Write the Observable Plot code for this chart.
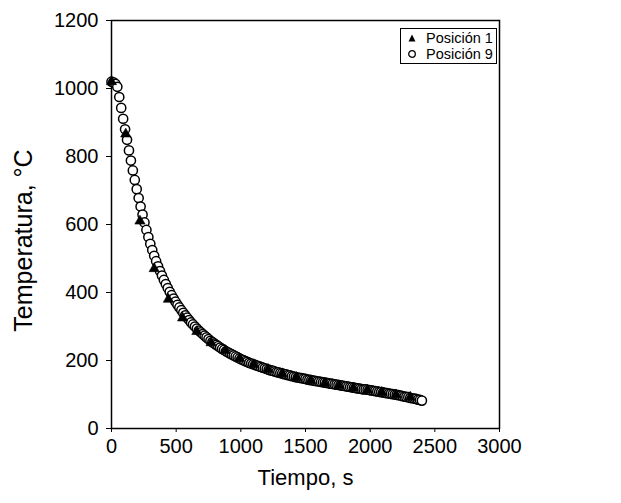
<!DOCTYPE html>
<html>
<head>
<meta charset="utf-8">
<script src="https://cdn.jsdelivr.net/npm/d3@7"></script>
<script src="https://cdn.jsdelivr.net/npm/@observablehq/plot@0.6"></script>
<style>
  html, body { margin: 0; padding: 0; background: white; }
  #wrap { position: relative; width: 621px; height: 503px; font-family: "Liberation Sans", Arial, sans-serif; }
  #legend { position: absolute; border: 1.4px solid black; background: white; font-size: 14.5px; line-height: 16px; padding: 1px 3px 1px 6px; }
  #legend .row { display: flex; align-items: center; white-space: nowrap; }
  #legend svg { margin-right: 9px; }
</style>
</head>
<body>
<div id="wrap"></div>
<script>
// Position 9 (open circles), time in s
const times9 = [0,15,30,45,60,75,90,105,120,135,150,165,180,195,210,225,240,255,270,285,300,315,330,345,360,375,390,405,420,435,450,465,480,495,510,525,540,555,570,585,600,
  615,630,645,660,675,690,705,720,735,750,765,780,795,810,825,840,855,870,885,900,915,930,945,960,975,990,
  1005,1020,1035,1050,1065,1080,1095,1110,1125,1140,1155,1170,1185,1200,1215,1230,1245,1260,1275,1290,1305,1320,1335,1350,1365,1380,1395,1410,1425,1440,1455,1470,1485,1500,
  1515,1530,1545,1560,1575,1590,1605,1620,1635,1650,1665,1680,1695,1710,1725,1740,1755,1770,1785,1800,1815,1830,1845,1860,1875,1890,1905,1920,1935,1950,1965,1980,1995,
  2010,2025,2040,2055,2070,2085,2100,2115,2130,2145,2160,2175,2190,2205,2220,2235,2250,2265,2280,2295,2310,2325,2340,2355,2370,2385,2400];
// Position 9 temperature, °C
const temps9 = [1020,1018,1014,1005,975,943,911,880,849,818,788,759,731,704,678,653,629,606,584,563,543,525,508,492,477,463,450,437,425,413,402,392,382,373,364,356,348,340,333,326,319,
  312,306,300,294,288,283,278,273,268,263,258,254,250,246,242,238,234,231,227,224,221,218,215,212,209,206,
  203,201,198,196,193,191,189,187,185,183,181,179,177,175,173,171,170,168,166,165,163,162,160,159,157,156,154,153,151,150,149,148,147,146,
  144,143,142,141,140,139,138,137,136,135,134,133,132,131,130,129,128,127,126,125,124,123,122,121,120,119,118,117,116,115,115,114,113,
  112,111,110,109,108,107,106,105,104,103,102,101,100,99,98,97,95,94,93,92,90,89,88,87,85,84,82];
// Position 1 (filled triangles)
const times1 = [0,110,220,330,440,550,660,770,880,990,1100,1210,1320,1430,1540,1650,1760,1870,1980,2090,2200,2310];
const temps1 = [1020,866,610,470,380,325,285,252,229,206,188,174,161,150,141,133,126,119,113,106,99,92];

const xTicks = [0,500,1000,1500,2000,2500,3000];
const yTicks = [0,200,400,600,800,1000,1200];
const xTitle = "Tiempo, s";
const yTitle = "Temperatura, °C";
const seriesNames = ["Posición 1", "Posición 9"];

const pos9 = times9.map((t, i) => ({t, T: temps9[i]}));
const pos1 = times1.map((t, i) => ({t, T: temps1[i]}));

const chart = Plot.plot({
  width: 621,
  height: 503,
  marginLeft: 111,
  marginRight: 122,
  marginTop: 20,
  marginBottom: 75,
  style: {fontFamily: "'Liberation Sans', Arial, sans-serif", fontSize: "19px", background: "white", color: "black"},
  x: {domain: [0, 3000]},
  y: {domain: [0, 1200]},
  marks: [
    Plot.frame({stroke: "black", strokeWidth: 1.5}),
    Plot.axisX({ticks: xTicks, tickSize: 4, tickPadding: 6, fontSize: 20, label: null, tickFormat: d => String(d)}),
    Plot.axisY({ticks: yTicks, tickSize: 5, tickPadding: 8, fontSize: 20, label: null, tickFormat: d => String(d)}),
    Plot.text([xTitle], {frameAnchor: "bottom", dy: 56, fontSize: 22, text: d => d}),
    Plot.text([yTitle], {frameAnchor: "left", dx: -88, dy: 16, rotate: -90, textAnchor: "middle", fontSize: 25, text: d => d}),
    Plot.dot(pos9, {x: "t", y: "T", r: 4.6, fill: "white", stroke: "black", strokeWidth: 1.5}),
    Plot.dot(pos1, {x: "t", y: "T", symbol: "triangle", r: 3.8, fill: "black", stroke: "black", strokeWidth: 0.6})
  ]
});

const wrap = document.getElementById("wrap");
wrap.appendChild(chart);

// legend (positioned relative to plot scales)
const sx = chart.scale("x"), sy = chart.scale("y");
const leg = document.createElement("div");
leg.id = "legend";
const symbols = [
  '<svg width="10" height="10"><path d="M5,1.5L8.5,8.5L1.5,8.5Z" fill="black"/></svg>',
  '<svg width="10" height="10"><circle cx="5" cy="5" r="3.3" fill="white" stroke="black" stroke-width="1.3"/></svg>'
];
leg.innerHTML = seriesNames.map((n, i) => `<div class="row">${symbols[i]}<span>${n}</span></div>`).join("");
wrap.appendChild(leg);
const lw = leg.offsetWidth;
leg.style.left = (sx.apply(3000) - 2 - lw) + "px";
leg.style.top = (sy.apply(1200) + 8) + "px";
</script>
</body>
</html>
